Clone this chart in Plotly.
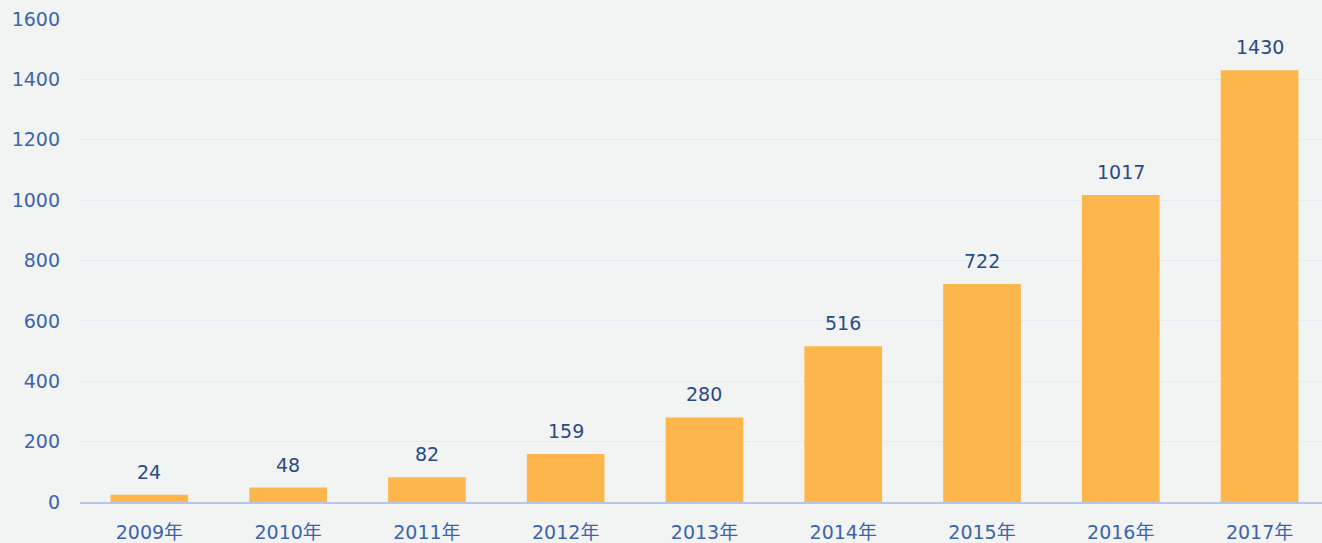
import plotly.graph_objects as go

years = ["2009年", "2010年", "2011年", "2012年", "2013年", "2014年", "2015年", "2016年", "2017年"]
values = [24, 48, 82, 159, 280, 516, 722, 1017, 1430]
yticks = [0, 200, 400, 600, 800, 1000, 1200, 1400, 1600]

font_family = "DejaVu Sans, Noto Sans CJK SC, sans-serif"
xs = list(range(len(years)))

fig = go.Figure(go.Bar(
    x=xs,
    y=values,
    width=0.56,
    marker=dict(color="#FDB64B", line=dict(width=0)),
    hoverinfo="x+y",
))

for x, v in zip(xs, values):
    fig.add_annotation(
        x=x, y=v, text=str(v), showarrow=False,
        yanchor="bottom", yshift=10,
        font=dict(color="#2B4A85", size=19, family=font_family),
    )

fig.update_layout(
    width=1322, height=543,
    margin=dict(l=80, r=0, t=19, b=41),
    paper_bgcolor="#F2F3F3",
    plot_bgcolor="#F2F3F3",
    showlegend=False,
)
fig.update_xaxes(
    tickmode="array",
    tickvals=xs,
    ticktext=years,
    range=[-0.5, 8.45],
    showgrid=False,
    showline=True, linecolor="#B4C7E7", linewidth=2,
    tickfont=dict(color="#3B64AD", size=19, family=font_family),
    ticks="",
    ticklabelstandoff=12,
)
fig.update_yaxes(
    range=[0, 1600],
    tickvals=yticks,
    showgrid=True, gridcolor="#E3ECF6", gridwidth=1,
    zeroline=False,
    tickfont=dict(color="#3B64AD", size=19, family=font_family),
    ticks="",
    ticklabelstandoff=19,
)

fig.write_html(
    "out.html",
    config={"displayModeBar": False},
    post_script="document.body.style.margin='0';document.body.style.padding='0';document.body.style.overflow='hidden';",
)
